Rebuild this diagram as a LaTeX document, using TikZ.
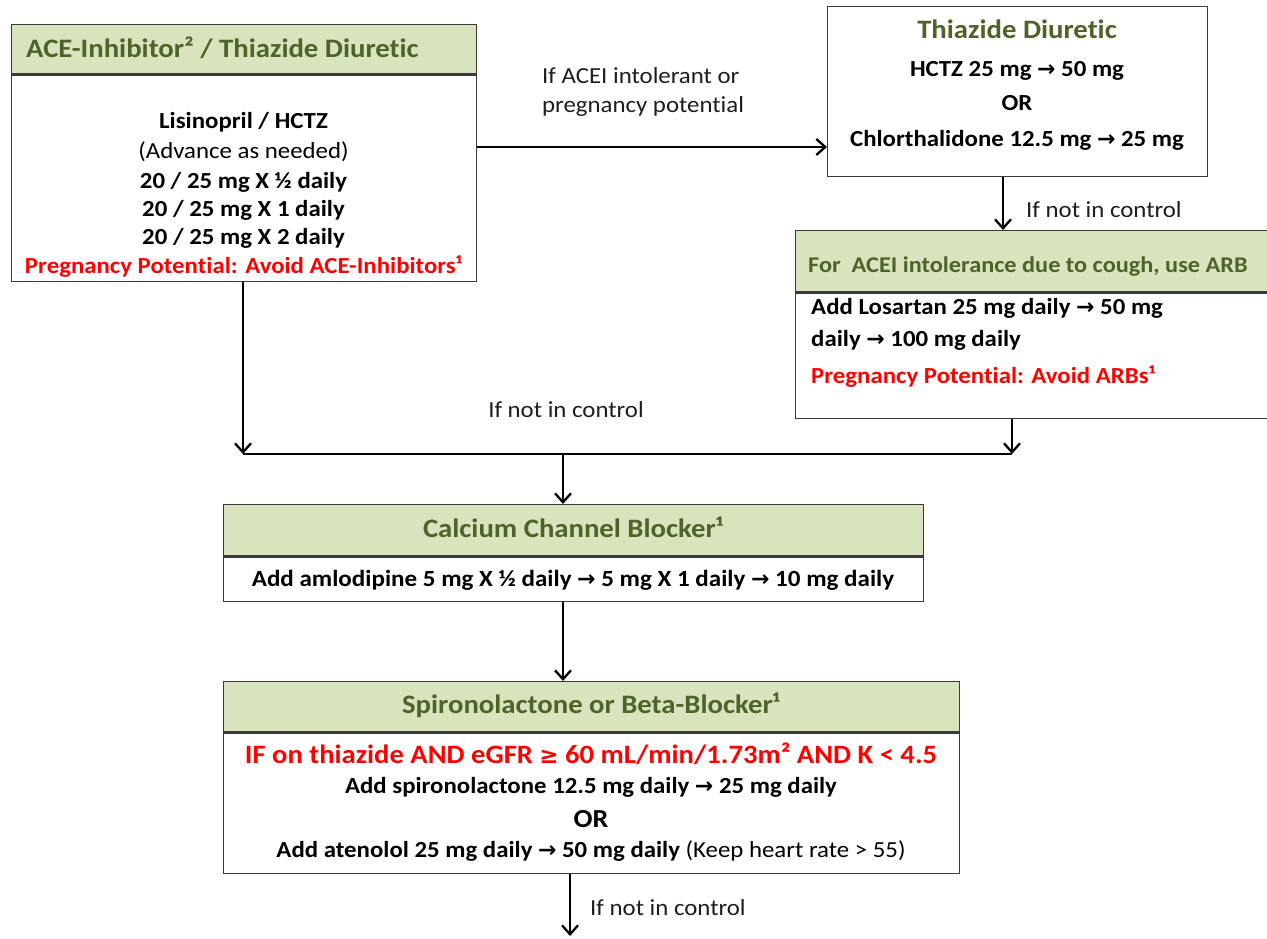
\documentclass[tikz,border=0pt]{standalone}
\usepackage{fontspec}
\setmainfont{Carlito}[FakeStretch=1.08, Ligatures=NoCommon]
\newfontfamily\symf{DejaVu Sans}
\usetikzlibrary{arrows.meta}
\definecolor{hdrfill}{HTML}{D7E4BD}
\definecolor{olivetxt}{HTML}{4F6228}
\definecolor{boxline}{HTML}{3A3A3A}
\definecolor{redtxt}{HTML}{FF0000}
\definecolor{labeltxt}{HTML}{1E1E1E}
\newcommand{\rarr}{{\symf\bfseries\fontsize{22}{22}\selectfont →}}
\newcommand{\geqsym}{{\symf\fontsize{23}{23}\selectfont ≥}}
\newcommand{\fsz}[1]{\fontsize{#1}{#1}\selectfont}
\tikzset{
  box/.style={draw=boxline, line width=1.4pt, inner sep=0pt, anchor=north west},
  hdr/.style={box, fill=hdrfill},
  divider/.style={draw=boxline, line width=2.4pt},
  conn/.style={line width=2.3pt, -{Straight Barb[length=9pt,width=16pt]}},
  plain/.style={line width=2.3pt},
  htxt/.style={inner sep=0pt, text=olivetxt, font=\fsz{26.6}\bfseries},
  btxt/.style={inner sep=0pt, font=\fsz{23}\bfseries},
  rtxt/.style={inner sep=0pt, text=redtxt, font=\fsz{23}\bfseries},
  ltxt/.style={inner sep=0pt, text=labeltxt, font=\fsz{23}},
}
\begin{document}
\begin{tikzpicture}[x=1pt,y=-1pt]
\useasboundingbox[fill=white] (0,0) rectangle (1267,938);
% boxes
\node[hdr, minimum width=465pt, minimum height=49pt] (Ahead) at (11,24) {};
\node[box, minimum width=465pt, minimum height=208pt] (Abody) at (11,73) {};
\draw[divider] (Ahead.south west) -- (Ahead.south east);
\node[box, minimum width=380pt, minimum height=170pt] (B) at (827,6) {};
\node[hdr, minimum width=480pt, minimum height=61pt] (Chead) at (795,230) {};
\node[box, minimum width=480pt, minimum height=127pt] (Cbody) at (795,291) {};
\draw[divider] (Chead.south west) -- (Chead.south east);
\node[hdr, minimum width=700pt, minimum height=51pt] (Dhead) at (223,504) {};
\node[box, minimum width=700pt, minimum height=46pt] (Dbody) at (223,555) {};
\draw[divider] (Dhead.south west) -- (Dhead.south east);
\node[hdr, minimum width=736pt, minimum height=50pt] (Ehead) at (223,681) {};
\node[box, minimum width=736pt, minimum height=142pt] (Ebody) at (223,731) {};
\draw[divider] (Ehead.south west) -- (Ehead.south east);
% texts box A
\node[htxt, anchor=base west] (a0) at (26,57) {ACE-Inhibitor² / Thiazide Diuretic};
\node[btxt, anchor=base] (a1) at (243.5,128) {Lisinopril / HCTZ};
\node[ltxt, text=black, anchor=base] (a2) at (243.5,158) {(Advance as needed)};
\node[btxt, anchor=base] (a3) at (243.5,188) {20 / 25 mg X ½ daily};
\node[btxt, anchor=base] (a4) at (243.5,216) {20 / 25 mg X 1 daily};
\node[btxt, anchor=base] (a5) at (243.5,244) {20 / 25 mg X 2 daily};
\node[rtxt, anchor=base] (a6) at (243.5,273) {Pregnancy Potential: Avoid ACE-Inhibitors¹};
% box B
\node[htxt, anchor=base] (b0) at (1017,38) {Thiazide Diuretic};
\node[btxt, anchor=base] (b1) at (1017,76) {HCTZ 25 mg \rarr\ 50 mg};
\node[btxt, anchor=base] (b2) at (1017,110) {OR};
\node[btxt, anchor=base] (b3) at (1017,146) {Chlorthalidone 12.5 mg \rarr\ 25 mg};
% box C
\node[htxt, font=\fsz{22.5}\bfseries, anchor=base west] (c0) at (808,272) {For\ \ ACEI intolerance due to cough, use ARB};
\node[btxt, anchor=base west] (c1) at (811,314) {Add Losartan 25 mg daily \rarr\ 50 mg};
\node[btxt, anchor=base west] (c2) at (811,346) {daily \rarr\ 100 mg daily};
\node[rtxt, anchor=base west] (c3) at (811,383) {Pregnancy Potential: Avoid ARBs¹};
% box D
\node[htxt, anchor=base] (d0) at (573,537) {Calcium Channel Blocker¹};
\node[btxt, font=\fsz{23.2}\bfseries, anchor=base] (d1) at (573,586) {Add amlodipine 5 mg X ½ daily \rarr\ 5 mg X 1 daily \rarr\ 10 mg daily};
% box E
\node[htxt, anchor=base] (e0) at (591,713) {Spironolactone or Beta-Blocker¹};
\node[rtxt, font=\fsz{26.5}\bfseries, anchor=base] (e1) at (591,763) {IF on thiazide AND eGFR \geqsym\ 60 mL/min/1.73m² AND K < 4.5};
\node[btxt, anchor=base] (e2) at (591,793) {Add spironolactone 12.5 mg daily \rarr\ 25 mg daily};
\node[btxt, font=\fsz{26}\bfseries, anchor=base] (e3) at (591,827) {OR};
\node[btxt, anchor=base] (e4) at (591,857) {Add atenolol 25 mg daily \rarr\ 50 mg daily {\mdseries(Keep heart rate > 55)}};
% connector labels
\node[ltxt, anchor=base west] (l1) at (542,83) {If ACEI intolerant or};
\node[ltxt, anchor=base west] (l2) at (542,112) {pregnancy potential};
\node[ltxt, anchor=base west] (l3) at (1026,217) {If not in control};
\node[ltxt, anchor=base] (l4) at (566,417) {If not in control};
\node[ltxt, anchor=base west] (l5) at (590,915) {If not in control};
% connectors
\coordinate (jA) at (0,147);
\coordinate (cB) at (1003,0);
\coordinate (jL) at (243,454);
\coordinate (jR) at (1012,454);
\coordinate (jM) at (563,454);
\coordinate (cE) at (570,936);
\draw[conn] (Abody.east |- jA) -- (B.west |- jA);
\draw[conn] (B.south -| cB) -- (Chead.north -| cB);
\draw[conn] (Abody.south -| jL) -- (jL);
\draw[conn] (Cbody.south -| jR) -- (jR);
\draw[plain] (jL) -- (jR);
\draw[conn] (jM) -- (Dhead.north -| jM);
\draw[conn] (Dbody.south -| jM) -- (Ehead.north -| jM);
\draw[conn] (Ebody.south -| cE) -- (cE);
\end{tikzpicture}
\end{document}
